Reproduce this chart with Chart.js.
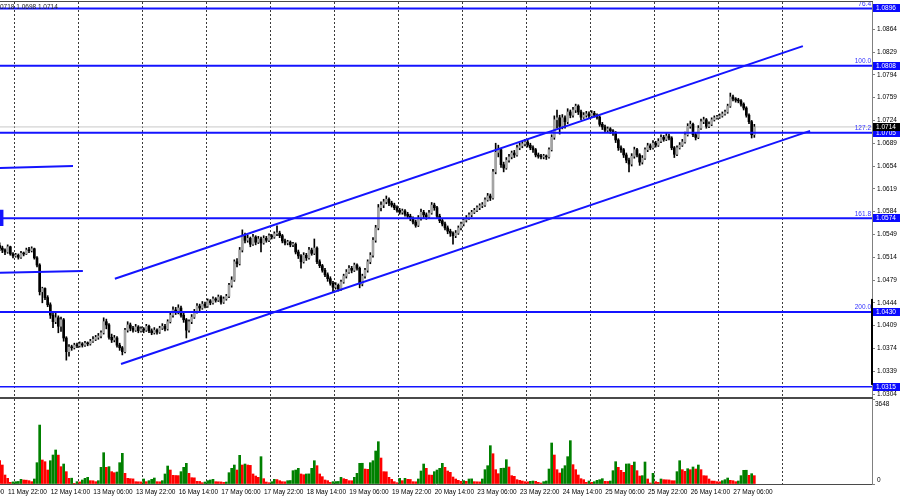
<!DOCTYPE html>
<html lang="en">
<head>
<meta charset="utf-8">
<title>EURUSD H1</title>
<script src="https://cdn.jsdelivr.net/npm/chart.js@4.4.1/dist/chart.umd.min.js"></script>
<style>
    html, body { margin: 0; padding: 0; background: #ffffff; }
    #frame { position: relative; width: 900px; height: 499px; overflow: hidden; background: #ffffff; }
    #priceChart { position: absolute; left: 0; top: 0; }
    #volumeChart { position: absolute; left: 0; top: 399px; }
    .rule { position: absolute; left: 0; width: 873px; background: #4a4a4a; }
</style>
</head>
<body>
<div id="frame">
    <canvas id="priceChart" width="900" height="397"></canvas>
    <canvas id="volumeChart" width="900" height="100"></canvas>
    <div class="rule" style="top:1px;height:1px"></div>
    <div class="rule" style="top:397px;height:2px"></div>
</div>
<script>
// EURUSD H1 - price pane with fibo levels and channel, volumes pane below

const FONT = '"Liberation Sans", Arial, sans-serif';
const BLUE = '#1414ff';
const BULL = '#a4a4a4';
const BEAR = '#000000';
const VOL_UP = '#008000';
const VOL_DOWN = '#ff0000';

// x = bar number (one unit per hourly bar, 0 = 11 May 20:00)
const X_MIN = 0.125;
const X_MAX = 327.125;
const Y_MIN = 1.02994;
const Y_MAX = 1.09058;
const VOL_MAX = 3648;

// time axis
const timeLabels = ['11 May 06:00', '11 May 22:00', '12 May 14:00', '13 May 06:00', '13 May 22:00', '16 May 14:00',
    '17 May 06:00', '17 May 22:00', '18 May 14:00', '19 May 06:00', '19 May 22:00', '20 May 14:00',
    '23 May 06:00', '23 May 22:00', '24 May 14:00', '25 May 06:00', '25 May 22:00', '26 May 14:00', '27 May 06:00'];
const labelBars = [-14, 2, 18, 34, 50, 66, 82, 98, 114, 130, 146, 162, 178, 194, 210, 226, 242, 258, 274];
const dayBars = [5.375, 29.375, 53.375, 77.375, 101.375, 125.375, 149.375, 173.375, 197.375, 221.375, 245.375, 269.375, 293.375];

// price axis
const priceTicks = [1.0304, 1.0339, 1.0374, 1.0409, 1.0444, 1.0479, 1.0514, 1.0549, 1.0584,
    1.0619, 1.0654, 1.0689, 1.0724, 1.0759, 1.0794, 1.0829, 1.0864];

// levels
const fiboLevels = [1.0896, 1.0808, 1.0705, 1.0574, 1.0430];
const fiboNames = ['76.4', '100.0', '127.2', '161.8', '200.0'];
const extraLevel = 1.0315;
const bidPrice = 1.0714;
const headerText = '0718 1.0698 1.0714';
const axisMark = [1.0450, 1.0318];

// trend channel and old objects: [bar, price]
const channelUpper = [[43.2, 1.0481], [301.2, 1.0838]];
const channelLower = [[45.5, 1.0350], [303.9, 1.0708]];
const oldLevelA = [[0.1, 1.0651], [27.5, 1.0654]];
const oldLevelB = [[0.1, 1.0490], [31.2, 1.0493]];
const anchorMark = [[0.1, 1.0587], [0.1, 1.0562]];

// hourly candles
const opens = [
    1.0532, 1.0528, 1.0525, 1.0522, 1.0530, 1.0519, 1.0516, 1.0517, 1.0514, 1.0520,
    1.0519, 1.0525, 1.0524, 1.0527, 1.0513, 1.0502, 1.0461, 1.0466, 1.0452, 1.0441,
    1.0425, 1.0415, 1.0421, 1.0408, 1.0418, 1.0390, 1.0369, 1.0376, 1.0375, 1.0379,
    1.0378, 1.0381, 1.0379, 1.0382, 1.0381, 1.0385, 1.0388, 1.0391, 1.0393, 1.0398,
    1.0415, 1.0410, 1.0391, 1.0387, 1.0390, 1.0379, 1.0375, 1.0369, 1.0402, 1.0410,
    1.0405, 1.0402, 1.0407, 1.0401, 1.0404, 1.0402, 1.0408, 1.0401, 1.0398, 1.0402,
    1.0399, 1.0405, 1.0408, 1.0404, 1.0415, 1.0425, 1.0433, 1.0430, 1.0436, 1.0425,
    1.0418, 1.0402, 1.0415, 1.0422, 1.0430, 1.0439, 1.0436, 1.0442, 1.0439, 1.0447,
    1.0444, 1.0450, 1.0448, 1.0453, 1.0445, 1.0450, 1.0454, 1.0471, 1.0479, 1.0507,
    1.0504, 1.0525, 1.0547, 1.0540, 1.0543, 1.0534, 1.0545, 1.0537, 1.0542, 1.0536,
    1.0543, 1.0540, 1.0547, 1.0545, 1.0550, 1.0551, 1.0547, 1.0539, 1.0536, 1.0537,
    1.0533, 1.0534, 1.0522, 1.0516, 1.0507, 1.0517, 1.0513, 1.0525, 1.0520, 1.0528,
    1.0507, 1.0501, 1.0494, 1.0487, 1.0481, 1.0474, 1.0468, 1.0471, 1.0465, 1.0476,
    1.0485, 1.0491, 1.0497, 1.0494, 1.0502, 1.0497, 1.0473, 1.0485, 1.0494, 1.0507,
    1.0517, 1.0540, 1.0559, 1.0590, 1.0594, 1.0599, 1.0603, 1.0597, 1.0594, 1.0590,
    1.0586, 1.0583, 1.0585, 1.0580, 1.0577, 1.0573, 1.0568, 1.0563, 1.0574, 1.0583,
    1.0579, 1.0576, 1.0582, 1.0594, 1.0590, 1.0577, 1.0570, 1.0565, 1.0559, 1.0554,
    1.0551, 1.0547, 1.0551, 1.0559, 1.0565, 1.0571, 1.0574, 1.0579, 1.0583, 1.0586,
    1.0590, 1.0593, 1.0594, 1.0602, 1.0608, 1.0605, 1.0645, 1.0675, 1.0679, 1.0656,
    1.0651, 1.0663, 1.0668, 1.0674, 1.0671, 1.0682, 1.0685, 1.0688, 1.0691, 1.0686,
    1.0682, 1.0679, 1.0671, 1.0669, 1.0668, 1.0669, 1.0668, 1.0679, 1.0698, 1.0725,
    1.0728, 1.0715, 1.0728, 1.0722, 1.0737, 1.0732, 1.0740, 1.0746, 1.0737, 1.0729,
    1.0732, 1.0734, 1.0731, 1.0735, 1.0732, 1.0729, 1.0718, 1.0714, 1.0709, 1.0711,
    1.0708, 1.0705, 1.0694, 1.0682, 1.0679, 1.0671, 1.0663, 1.0657, 1.0669, 1.0679,
    1.0671, 1.0660, 1.0666, 1.0679, 1.0685, 1.0682, 1.0689, 1.0686, 1.0692, 1.0698,
    1.0695, 1.0700, 1.0697, 1.0682, 1.0672, 1.0682, 1.0686, 1.0691, 1.0702, 1.0715,
    1.0718, 1.0702, 1.0698, 1.0712, 1.0722, 1.0725, 1.0715, 1.0718, 1.0725, 1.0728,
    1.0729, 1.0731, 1.0734, 1.0737, 1.0746, 1.0760, 1.0757, 1.0755, 1.0754, 1.0749,
    1.0743, 1.0732, 1.0722, 1.0702
];
const highs = [
    1.0536, 1.0531, 1.0527, 1.0533, 1.0531, 1.0521, 1.0520, 1.0519, 1.0523, 1.0522,
    1.0528, 1.0529, 1.0530, 1.0528, 1.0515, 1.0504, 1.0468, 1.0467, 1.0455, 1.0444,
    1.0428, 1.0430, 1.0424, 1.0422, 1.0420, 1.0392, 1.0380, 1.0379, 1.0382, 1.0382,
    1.0384, 1.0383, 1.0385, 1.0384, 1.0388, 1.0392, 1.0394, 1.0397, 1.0401, 1.0421,
    1.0419, 1.0412, 1.0396, 1.0394, 1.0392, 1.0382, 1.0377, 1.0405, 1.0415, 1.0413,
    1.0408, 1.0411, 1.0409, 1.0407, 1.0406, 1.0411, 1.0410, 1.0404, 1.0406, 1.0404,
    1.0408, 1.0412, 1.0411, 1.0418, 1.0429, 1.0438, 1.0437, 1.0441, 1.0439, 1.0428,
    1.0420, 1.0418, 1.0426, 1.0434, 1.0443, 1.0442, 1.0446, 1.0445, 1.0450, 1.0449,
    1.0453, 1.0452, 1.0456, 1.0455, 1.0453, 1.0457, 1.0474, 1.0484, 1.0510, 1.0512,
    1.0529, 1.0556, 1.0551, 1.0548, 1.0545, 1.0549, 1.0547, 1.0546, 1.0545, 1.0547,
    1.0546, 1.0550, 1.0549, 1.0553, 1.0562, 1.0554, 1.0549, 1.0542, 1.0540, 1.0539,
    1.0537, 1.0536, 1.0525, 1.0518, 1.0521, 1.0520, 1.0529, 1.0528, 1.0542, 1.0530,
    1.0510, 1.0503, 1.0497, 1.0490, 1.0484, 1.0477, 1.0475, 1.0473, 1.0479, 1.0488,
    1.0495, 1.0501, 1.0500, 1.0505, 1.0504, 1.0499, 1.0488, 1.0497, 1.0510, 1.0521,
    1.0544, 1.0563, 1.0595, 1.0599, 1.0603, 1.0608, 1.0605, 1.0600, 1.0597, 1.0593,
    1.0589, 1.0588, 1.0587, 1.0583, 1.0580, 1.0576, 1.0571, 1.0578, 1.0588, 1.0586,
    1.0582, 1.0586, 1.0598, 1.0597, 1.0592, 1.0580, 1.0573, 1.0568, 1.0562, 1.0557,
    1.0553, 1.0555, 1.0562, 1.0568, 1.0574, 1.0578, 1.0582, 1.0586, 1.0589, 1.0593,
    1.0596, 1.0598, 1.0605, 1.0612, 1.0611, 1.0649, 1.0689, 1.0686, 1.0681, 1.0660,
    1.0667, 1.0672, 1.0677, 1.0678, 1.0686, 1.0689, 1.0692, 1.0695, 1.0694, 1.0689,
    1.0685, 1.0681, 1.0674, 1.0672, 1.0672, 1.0671, 1.0682, 1.0702, 1.0731, 1.0740,
    1.0732, 1.0733, 1.0731, 1.0742, 1.0740, 1.0744, 1.0749, 1.0748, 1.0740, 1.0736,
    1.0738, 1.0737, 1.0739, 1.0738, 1.0734, 1.0731, 1.0721, 1.0717, 1.0714, 1.0713,
    1.0710, 1.0707, 1.0696, 1.0685, 1.0681, 1.0674, 1.0666, 1.0673, 1.0683, 1.0681,
    1.0673, 1.0670, 1.0682, 1.0689, 1.0688, 1.0693, 1.0692, 1.0696, 1.0702, 1.0701,
    1.0704, 1.0703, 1.0699, 1.0684, 1.0685, 1.0690, 1.0695, 1.0706, 1.0719, 1.0723,
    1.0720, 1.0705, 1.0716, 1.0726, 1.0729, 1.0727, 1.0722, 1.0728, 1.0731, 1.0732,
    1.0734, 1.0737, 1.0740, 1.0749, 1.0766, 1.0763, 1.0759, 1.0758, 1.0756, 1.0751,
    1.0745, 1.0734, 1.0724, 1.0718
];
const lows = [
    1.0524, 1.0521, 1.0518, 1.0520, 1.0517, 1.0513, 1.0514, 1.0511, 1.0512, 1.0516,
    1.0518, 1.0521, 1.0522, 1.0511, 1.0499, 1.0456, 1.0444, 1.0449, 1.0438, 1.0420,
    1.0406, 1.0412, 1.0398, 1.0400, 1.0385, 1.0356, 1.0362, 1.0371, 1.0373, 1.0375,
    1.0376, 1.0376, 1.0377, 1.0378, 1.0379, 1.0383, 1.0386, 1.0388, 1.0390, 1.0396,
    1.0404, 1.0388, 1.0383, 1.0384, 1.0376, 1.0371, 1.0364, 1.0367, 1.0399, 1.0401,
    1.0399, 1.0400, 1.0398, 1.0399, 1.0398, 1.0400, 1.0398, 1.0395, 1.0396, 1.0396,
    1.0397, 1.0403, 1.0401, 1.0402, 1.0413, 1.0422, 1.0426, 1.0427, 1.0422, 1.0414,
    1.0390, 1.0399, 1.0412, 1.0420, 1.0428, 1.0432, 1.0434, 1.0436, 1.0437, 1.0441,
    1.0442, 1.0445, 1.0446, 1.0442, 1.0443, 1.0448, 1.0452, 1.0468, 1.0477, 1.0499,
    1.0502, 1.0522, 1.0536, 1.0537, 1.0530, 1.0532, 1.0533, 1.0535, 1.0522, 1.0534,
    1.0537, 1.0538, 1.0542, 1.0543, 1.0547, 1.0544, 1.0536, 1.0533, 1.0533, 1.0530,
    1.0530, 1.0519, 1.0512, 1.0497, 1.0505, 1.0509, 1.0511, 1.0517, 1.0518, 1.0504,
    1.0498, 1.0491, 1.0484, 1.0477, 1.0471, 1.0461, 1.0465, 1.0462, 1.0463, 1.0474,
    1.0482, 1.0489, 1.0490, 1.0492, 1.0494, 1.0467, 1.0470, 1.0482, 1.0491, 1.0504,
    1.0514, 1.0537, 1.0556, 1.0585, 1.0590, 1.0596, 1.0593, 1.0591, 1.0587, 1.0583,
    1.0580, 1.0580, 1.0577, 1.0574, 1.0570, 1.0565, 1.0560, 1.0561, 1.0571, 1.0575,
    1.0572, 1.0574, 1.0580, 1.0586, 1.0574, 1.0567, 1.0562, 1.0556, 1.0550, 1.0546,
    1.0534, 1.0544, 1.0549, 1.0556, 1.0562, 1.0568, 1.0572, 1.0576, 1.0581, 1.0584,
    1.0587, 1.0590, 1.0592, 1.0600, 1.0601, 1.0603, 1.0642, 1.0668, 1.0652, 1.0645,
    1.0649, 1.0660, 1.0665, 1.0667, 1.0669, 1.0679, 1.0682, 1.0685, 1.0683, 1.0679,
    1.0675, 1.0668, 1.0666, 1.0665, 1.0665, 1.0664, 1.0666, 1.0677, 1.0695, 1.0712,
    1.0703, 1.0711, 1.0712, 1.0719, 1.0728, 1.0729, 1.0736, 1.0733, 1.0725, 1.0727,
    1.0729, 1.0728, 1.0729, 1.0729, 1.0726, 1.0715, 1.0710, 1.0706, 1.0706, 1.0704,
    1.0701, 1.0690, 1.0678, 1.0675, 1.0667, 1.0659, 1.0645, 1.0654, 1.0666, 1.0668,
    1.0655, 1.0657, 1.0664, 1.0676, 1.0679, 1.0680, 1.0683, 1.0684, 1.0690, 1.0692,
    1.0693, 1.0694, 1.0679, 1.0667, 1.0670, 1.0680, 1.0684, 1.0689, 1.0700, 1.0712,
    1.0699, 1.0694, 1.0696, 1.0710, 1.0719, 1.0712, 1.0713, 1.0716, 1.0723, 1.0726,
    1.0727, 1.0729, 1.0732, 1.0735, 1.0744, 1.0754, 1.0752, 1.0751, 1.0746, 1.0740,
    1.0729, 1.0719, 1.0697, 1.0698
];
const closes = [
    1.0528, 1.0525, 1.0522, 1.0530, 1.0519, 1.0516, 1.0517, 1.0514, 1.0520, 1.0519,
    1.0525, 1.0524, 1.0527, 1.0513, 1.0502, 1.0461, 1.0466, 1.0452, 1.0441, 1.0425,
    1.0415, 1.0421, 1.0408, 1.0418, 1.0390, 1.0369, 1.0376, 1.0375, 1.0379, 1.0378,
    1.0381, 1.0379, 1.0382, 1.0381, 1.0385, 1.0388, 1.0391, 1.0393, 1.0398, 1.0415,
    1.0410, 1.0391, 1.0387, 1.0390, 1.0379, 1.0375, 1.0369, 1.0402, 1.0410, 1.0405,
    1.0402, 1.0407, 1.0401, 1.0404, 1.0402, 1.0408, 1.0401, 1.0398, 1.0402, 1.0399,
    1.0405, 1.0408, 1.0404, 1.0415, 1.0425, 1.0433, 1.0430, 1.0436, 1.0425, 1.0418,
    1.0402, 1.0415, 1.0422, 1.0430, 1.0439, 1.0436, 1.0442, 1.0439, 1.0447, 1.0444,
    1.0450, 1.0448, 1.0453, 1.0445, 1.0450, 1.0454, 1.0471, 1.0479, 1.0507, 1.0504,
    1.0525, 1.0547, 1.0540, 1.0543, 1.0534, 1.0545, 1.0537, 1.0542, 1.0536, 1.0543,
    1.0540, 1.0547, 1.0545, 1.0550, 1.0551, 1.0547, 1.0539, 1.0536, 1.0537, 1.0533,
    1.0534, 1.0522, 1.0516, 1.0507, 1.0517, 1.0513, 1.0525, 1.0520, 1.0528, 1.0507,
    1.0501, 1.0494, 1.0487, 1.0481, 1.0474, 1.0468, 1.0471, 1.0465, 1.0476, 1.0485,
    1.0491, 1.0497, 1.0494, 1.0502, 1.0497, 1.0473, 1.0485, 1.0494, 1.0507, 1.0517,
    1.0540, 1.0559, 1.0590, 1.0594, 1.0599, 1.0603, 1.0597, 1.0594, 1.0590, 1.0586,
    1.0583, 1.0585, 1.0580, 1.0577, 1.0573, 1.0568, 1.0563, 1.0574, 1.0583, 1.0579,
    1.0576, 1.0582, 1.0594, 1.0590, 1.0577, 1.0570, 1.0565, 1.0559, 1.0554, 1.0551,
    1.0547, 1.0551, 1.0559, 1.0565, 1.0571, 1.0574, 1.0579, 1.0583, 1.0586, 1.0590,
    1.0593, 1.0594, 1.0602, 1.0608, 1.0605, 1.0645, 1.0675, 1.0679, 1.0656, 1.0651,
    1.0663, 1.0668, 1.0674, 1.0671, 1.0682, 1.0685, 1.0688, 1.0691, 1.0686, 1.0682,
    1.0679, 1.0671, 1.0669, 1.0668, 1.0669, 1.0668, 1.0679, 1.0698, 1.0725, 1.0728,
    1.0715, 1.0728, 1.0722, 1.0737, 1.0732, 1.0740, 1.0746, 1.0737, 1.0729, 1.0732,
    1.0734, 1.0731, 1.0735, 1.0732, 1.0729, 1.0718, 1.0714, 1.0709, 1.0711, 1.0708,
    1.0705, 1.0694, 1.0682, 1.0679, 1.0671, 1.0663, 1.0657, 1.0669, 1.0679, 1.0671,
    1.0660, 1.0666, 1.0679, 1.0685, 1.0682, 1.0689, 1.0686, 1.0692, 1.0698, 1.0695,
    1.0700, 1.0697, 1.0682, 1.0672, 1.0682, 1.0686, 1.0691, 1.0702, 1.0715, 1.0718,
    1.0702, 1.0698, 1.0712, 1.0722, 1.0725, 1.0715, 1.0718, 1.0725, 1.0728, 1.0729,
    1.0731, 1.0734, 1.0737, 1.0746, 1.0760, 1.0757, 1.0755, 1.0754, 1.0749, 1.0743,
    1.0732, 1.0722, 1.0702, 1.0714
];
const volumes = [
    1000, 815, 386, 243, 72, 90, 100, 110, 200, 172,
    165, 143, 100, 215, 915, 2530, 1030, 958, 600, 1000,
    1244, 1460, 1240, 744, 858, 530, 243, 250, 30, 100,
    90, 172, 243, 286, 143, 140, 100, 143, 715, 1344,
    715, 744, 530, 486, 515, 915, 1316, 458, 243, 229,
    220, 100, 95, 90, 215, 100, 143, 200, 257, 100,
    95, 143, 430, 772, 600, 372, 365, 360, 530, 715,
    887, 458, 272, 265, 114, 110, 57, 86, 143, 172,
    200, 100, 95, 90, 70, 86, 486, 672, 815, 600,
    1230, 815, 858, 815, 800, 430, 343, 286, 1173, 229,
    86, 57, 100, 200, 190, 143, 100, 95, 143, 150,
    572, 600, 672, 430, 400, 430, 435, 672, 1000, 786,
    430, 315, 172, 143, 70, 100, 105, 110, 286, 229,
    200, 143, 140, 286, 458, 887, 890, 643, 630, 915,
    1000, 1416, 1816, 1115, 530, 525, 286, 200, 100, 57,
    243, 143, 243, 200, 195, 100, 95, 215, 558, 858,
    672, 386, 380, 530, 600, 672, 887, 715, 558, 500,
    300, 215, 157, 114, 143, 114, 215, 220, 100, 95,
    90, 215, 615, 786, 1645, 1300, 615, 443, 672, 680,
    1044, 730, 358, 330, 186, 157, 129, 100, 95, 114,
    129, 114, 72, 43, 100, 129, 643, 1760, 1244, 615,
    472, 658, 786, 1173, 1860, 830, 615, 386, 229, 186,
    72, 129, 72, 100, 157, 186, 229, 114, 110, 129,
    572, 958, 715, 586, 500, 858, 865, 800, 944, 572,
    343, 358, 944, 215, 43, 458, 100, 72, 215, 186,
    180, 175, 143, 140, 530, 1000, 615, 543, 658, 615,
    730, 643, 815, 615, 358, 350, 215, 129, 125, 100,
    95, 143, 186, 257, 157, 143, 100, 129, 358, 586,
    590, 372, 443, 358
];

const bars = closes.map((c, i) => i);
const bodyColors = bars.map(i => closes[i] >= opens[i] ? BULL : BEAR);
// MT4 volumes: green when the bar beats the one before it
const volColors = volumes.map((v, i) => (i > 0 && v > volumes[i - 1]) ? VOL_UP : VOL_DOWN);

const toPoints = pts => pts.map(([x, y]) => ({ x, y }));
function lineSet(pts, color, width, order) {
    return {
        type: 'line',
        data: toPoints(pts),
        borderColor: color,
        borderWidth: width,
        pointRadius: 0,
        fill: false,
        order: order === undefined ? 0 : order
    };
}
const flatLine = (v, color, width, order) => lineSet([[X_MIN, v], [X_MAX, v]], color, width, order);

function noPadding(scale) {
    scale.paddingLeft = 0;
    scale.paddingRight = 0;
    scale.paddingTop = 0;
    scale.paddingBottom = 0;
}

// labels, axis boxes and header drawn over the price pane
const priceDecor = {
    id: 'priceDecor',
    afterDraw(chart) {
        const { ctx, chartArea } = chart;
        const y = chart.scales.y;
        ctx.save();
        ctx.font = '6.5px ' + FONT;

        ctx.fillStyle = '#3232ff';
        ctx.textAlign = 'right';
        ctx.textBaseline = 'bottom';
        fiboLevels.forEach((v, k) => {
            ctx.fillText(fiboNames[k], chartArea.right - 1, y.getPixelForValue(v) - 1);
        });

        ctx.fillStyle = '#000';
        const m1 = y.getPixelForValue(axisMark[0]);
        const m2 = y.getPixelForValue(axisMark[1]);
        ctx.fillRect(chartArea.right - 1, m1, 2, m2 - m1);

        const boxes = fiboLevels.concat([extraLevel]).map(v => ({ v, bg: '#0a0aff' }));
        boxes.push({ v: bidPrice, bg: '#000000' });
        ctx.textAlign = 'left';
        ctx.textBaseline = 'middle';
        boxes.forEach(b => {
            const py = Math.round(y.getPixelForValue(b.v));
            ctx.fillStyle = b.bg;
            ctx.fillRect(chartArea.right + 1, py - 4, 27, 8);
            ctx.fillStyle = '#ffffff';
            ctx.fillText(b.v.toFixed(4), chartArea.right + 4, py + 0.5);
        });

        ctx.fillStyle = '#222';
        ctx.fillText(headerText, 0, 7);
        ctx.restore();
    }
};

const volDecor = {
    id: 'volDecor',
    afterDraw(chart) {
        const { ctx } = chart;
        const y = chart.scales.y;
        ctx.save();
        ctx.font = '6.5px ' + FONT;
        ctx.fillStyle = '#000';
        ctx.textAlign = 'left';
        ctx.textBaseline = 'middle';
        ctx.fillText(String(VOL_MAX), y.left + 3, y.getPixelForValue(VOL_MAX) + 5);
        ctx.fillText('0', y.left + 5, y.getPixelForValue(0) - 4);
        ctx.restore();
    }
};

const gridAxis = {
    type: 'linear',
    position: 'bottom',
    min: X_MIN,
    max: X_MAX,
    offset: false,
    bounds: 'data',
    weight: 0,
    afterBuildTicks: s => { s.ticks = dayBars.map(v => ({ value: v })); },
    afterFit: s => { s.height = 0; noPadding(s); },
    ticks: { display: false },
    grid: { color: '#3a3a3a', lineWidth: 1, drawTicks: false, offset: false },
    border: { display: false, dash: [2, 2] }
};

new Chart(document.getElementById('priceChart'), {
    type: 'bar',
    data: {
        datasets: [
            flatLine(bidPrice, '#c8c8c8', 1, 3),
            {
                type: 'bar',
                data: bars.map(i => ({ x: i, y: [lows[i], highs[i]] })),
                backgroundColor: '#000000',
                barThickness: 1,
                grouped: false,
                order: 2
            },
            {
                type: 'bar',
                data: bars.map(i => ({ x: i, y: [opens[i], closes[i]] })),
                backgroundColor: bodyColors,
                barThickness: 2,
                minBarLength: 1,
                grouped: false,
                order: 1
            },
            ...fiboLevels.map(v => flatLine(v, BLUE, 2)),
            flatLine(extraLevel, BLUE, 1.5),
            lineSet(channelUpper, BLUE, 2),
            lineSet(channelLower, BLUE, 2),
            lineSet(oldLevelA, BLUE, 2),
            lineSet(oldLevelB, BLUE, 2),
            lineSet(anchorMark, BLUE, 7)
        ]
    },
    options: {
        responsive: false,
        animation: false,
        events: [],
        layout: { padding: { top: 2, left: 0, right: 0, bottom: 0 } },
        plugins: { legend: { display: false }, tooltip: { enabled: false } },
        scales: {
            x: gridAxis,
            y: {
                position: 'right',
                min: Y_MIN,
                max: Y_MAX,
                bounds: 'data',
                afterBuildTicks: s => { s.ticks = priceTicks.map(v => ({ value: v })); },
                afterFit: s => { s.width = 28; noPadding(s); },
                ticks: {
                    autoSkip: false,
                    padding: 2,
                    color: '#000',
                    font: { family: FONT, size: 6.5 },
                    callback: v => v.toFixed(4)
                },
                grid: { drawOnChartArea: false, tickLength: 3, color: '#808080' },
                border: { color: '#808080', width: 1 }
            }
        }
    },
    plugins: [priceDecor]
});

new Chart(document.getElementById('volumeChart'), {
    type: 'bar',
    data: {
        datasets: [{
            data: volumes.map((v, i) => ({ x: i, y: v })),
            backgroundColor: volColors,
            barThickness: 2,
            grouped: false
        }]
    },
    options: {
        responsive: false,
        animation: false,
        events: [],
        layout: { padding: 0 },
        plugins: { legend: { display: false }, tooltip: { enabled: false } },
        scales: {
            x: Object.assign({}, gridAxis, { border: { display: true, color: '#4a4a4a', width: 1, dash: [2, 2] } }),
            xt: {
                type: 'linear',
                position: 'bottom',
                min: X_MIN,
                max: X_MAX,
                offset: false,
                bounds: 'data',
                weight: 1,
                afterBuildTicks: s => { s.ticks = labelBars.map(v => ({ value: v })); },
                afterFit: s => { s.height = 15; noPadding(s); },
                grid: { display: false, drawTicks: false },
                border: { display: false },
                ticks: {
                    autoSkip: false,
                    maxRotation: 0,
                    align: 'start',
                    labelOffset: 3,
                    padding: 4,
                    color: '#000',
                    font: { family: FONT, size: 6.5 },
                    callback: (v, i) => timeLabels[i]
                }
            },
            y: {
                position: 'right',
                min: 0,
                max: VOL_MAX,
                bounds: 'data',
                afterBuildTicks: s => { s.ticks = [{ value: 0 }, { value: VOL_MAX }]; },
                afterFit: s => { s.width = 28; noPadding(s); },
                ticks: { callback: () => '' },
                grid: { drawOnChartArea: false, tickLength: 3, color: '#808080' },
                border: { color: '#808080', width: 1 }
            }
        }
    },
    plugins: [volDecor]
});
</script>
</body>
</html>
